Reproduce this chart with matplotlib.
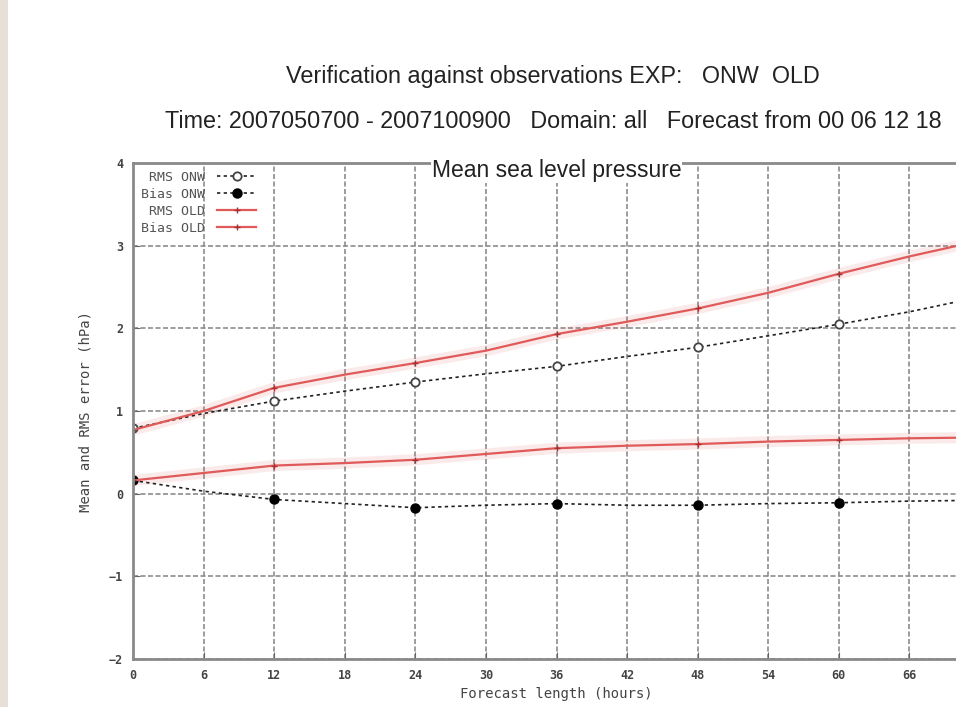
import matplotlib
matplotlib.use('Agg')
import matplotlib.pyplot as plt
import matplotlib.patches as mpatches

# Forecast lengths (hours) and verification scores (hPa)
lead_hours = [0, 6, 12, 18, 24, 30, 36, 42, 48, 54, 60, 66, 72]
rms_onw = [0.79, 0.97, 1.12, 1.24, 1.35, 1.45, 1.54, 1.66, 1.77, 1.91, 2.05, 2.20, 2.38]
bias_onw = [0.16, 0.03, -0.07, -0.12, -0.17, -0.14, -0.12, -0.14, -0.14, -0.12, -0.11, -0.09, -0.08]
rms_old = [0.77, 1.00, 1.28, 1.44, 1.58, 1.73, 1.93, 2.08, 2.24, 2.43, 2.66, 2.87, 3.06]
bias_old = [0.16, 0.25, 0.34, 0.37, 0.41, 0.48, 0.55, 0.58, 0.60, 0.63, 0.65, 0.67, 0.68]

x_ticks = [0, 6, 12, 18, 24, 30, 36, 42, 48, 54, 60, 66]
y_ticks = [-2, -1, 0, 1, 2, 3, 4]

title_main = 'Verification against observations EXP:   ONW  OLD'
title_info = 'Time: 2007050700 - 2007100900   Domain: all   Forecast from 00 06 12 18'

RED = '#e05a5a'
GRID = '#8c8c8c'

fig = plt.figure(figsize=(9.56, 7.07), dpi=100)
fig.patch.set_facecolor('white')

# thin beige strip along the left border
fig.patches.append(mpatches.Rectangle((0, 0), 8 / 956, 1, transform=fig.transFigure,
                                      facecolor='#e8e0d6', edgecolor='none', zorder=0))

# plot area runs past the right edge of the figure
ax = fig.add_axes([133 / 956, 48 / 707, (980 - 133) / 956, (659 - 163) / 707])
ax.set_xlim(0, 72)
ax.set_ylim(-2, 4)
ax.set_xticks(x_ticks)
ax.set_yticks(y_ticks)
ax.grid(True, color=GRID, linestyle=(0, (3, 1.5)), linewidth=1.2)
ax.set_axisbelow(True)
for side in ['left', 'bottom', 'top', 'right']:
    ax.spines[side].set_color('#8a8a8a')
    ax.spines[side].set_linewidth(2)
ax.tick_params(direction='in', length=5, color='#666666', labelsize=8.5,
               labelcolor='#444444', pad=7)
for lab in ax.get_xticklabels() + ax.get_yticklabels():
    lab.set_family('DejaVu Sans Mono')
    lab.set_weight('bold')

# soft pink glow under the red curves
for vals in (rms_old, bias_old):
    ax.plot(lead_hours, vals, color=RED, linewidth=8, alpha=0.12, solid_capstyle='round')

l1, = ax.plot(lead_hours, rms_onw, color='#222222', linestyle=(0, (2, 2)), linewidth=1.2,
              marker='o', markevery=2, markersize=6, markerfacecolor='white',
              markeredgecolor='#444444', markeredgewidth=1.3, label='RMS ONW')
l2, = ax.plot(lead_hours, bias_onw, color='#222222', linestyle=(0, (2, 2)), linewidth=1.2,
              marker='o', markevery=2, markersize=6.5, markerfacecolor='black',
              markeredgecolor='black', label='Bias ONW')
l3, = ax.plot(lead_hours, rms_old, color=RED, linewidth=1.6,
              marker='+', markevery=2, markersize=5, markeredgecolor='#a83030',
              label='RMS OLD')
l4, = ax.plot(lead_hours, bias_old, color=RED, linewidth=1.6,
              marker='+', markevery=2, markersize=5, markeredgecolor='#a83030',
              label='Bias OLD')

leg = ax.legend(handles=[l1, l2, l3, l4], loc='upper left', frameon=False,
                markerfirst=False, handlelength=3.0, labelspacing=0.3,
                borderaxespad=0.2, borderpad=0.4, handletextpad=0.9,
                prop={'family': 'DejaVu Sans Mono', 'size': 9.5})
for t in leg.get_texts():
    t.set_color('#555555')

ax.set_xlabel('Forecast length (hours)', fontsize=10, family='DejaVu Sans Mono',
              color='#444444', labelpad=4)
ax.set_ylabel('Mean and RMS error (hPa)', fontsize=10, family='DejaVu Sans Mono',
              color='#444444', labelpad=12)

ax.text(0.5, 0.984, 'Mean sea level pressure', transform=ax.transAxes, ha='center', va='center',
        fontsize=16.5, family='Liberation Sans', color='#222222',
        bbox=dict(facecolor='white', edgecolor='none', pad=0.5))

fig.text(553 / 956, 1 - 76 / 707, title_main, ha='center', va='center',
         fontsize=16.8, family='Liberation Sans', color='#222222')
fig.text(553 / 956, 1 - 122 / 707, title_info, ha='center', va='center',
         fontsize=16.8, family='Liberation Sans', color='#222222')

fig.savefig('out.png', dpi=100)
